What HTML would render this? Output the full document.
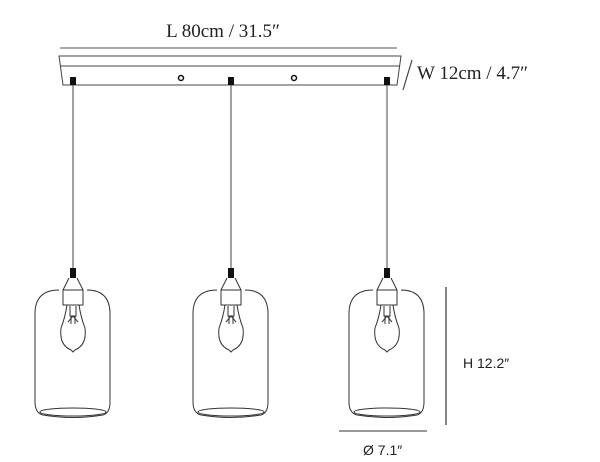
<!DOCTYPE html>
<html><head><style>
html,body{margin:0;padding:0;background:#fff;}
svg{display:block;}
text{fill:#222;}
</style></head><body>
<svg width="600" height="462" viewBox="0 0 600 462" xmlns="http://www.w3.org/2000/svg">
<defs>
<g id="lamp" fill="none" stroke="#333" stroke-width="1">
  <rect x="-3" y="268" width="6" height="10" fill="#111" stroke="none"/>
  <path d="M-4,278 L-10,290 M4,278 L10,290"/>
  <path d="M-10,290 L10,290 L10,305 L-10,305 Z"/>
  <path d="M-14,290 Q-37,290 -38,312 L-38,402 Q-38,413 -30,415 Q0,420 30,415 Q37,413 37,402 L37,312 Q36,290 14,290"/>
  <ellipse cx="0" cy="412" rx="33" ry="4"/>
  <path d="M-6,305 Q-8,318 -12,328 Q-14,345 -2,350 L0,352 L2,350 Q14,345 12,328 Q8,318 6,305"/>
  <path d="M-3,306 L-3,316 L3,316 L3,306 M-5,322 L0,316 L5,322 M-2,316 L-2,324 M2,316 L2,324"/>
</g>
</defs>
<text x="223" y="37" font-family="Liberation Serif, serif" font-size="19" text-anchor="middle">L 80cm / 31.5″</text>
<line x1="60" y1="48" x2="397" y2="48" stroke="#555" stroke-width="1"/>
<path d="M59,56 L401,56 L397,85 L63,85 Z" fill="none" stroke="#444" stroke-width="1"/>
<line x1="60" y1="66" x2="400" y2="66" stroke="#444" stroke-width="1"/>
<rect x="70" y="77" width="6" height="8" fill="#111"/>
<rect x="228" y="77" width="6" height="8" fill="#111"/>
<rect x="384" y="77" width="6" height="8" fill="#111"/>
<circle cx="181" cy="78" r="2.5" fill="none" stroke="#111" stroke-width="1.5"/>
<circle cx="294" cy="78" r="2.5" fill="none" stroke="#111" stroke-width="1.5"/>
<line x1="412" y1="60" x2="403" y2="90" stroke="#444" stroke-width="1.2"/>
<text x="417" y="79" font-family="Liberation Serif, serif" font-size="19">W 12cm / 4.7″</text>
<line x1="73" y1="85" x2="73" y2="268" stroke="#444" stroke-width="1"/>
<line x1="231" y1="85" x2="231" y2="268" stroke="#444" stroke-width="1"/>
<line x1="387" y1="85" x2="387" y2="268" stroke="#444" stroke-width="1"/>
<use href="#lamp" transform="translate(73,0)"/>
<use href="#lamp" transform="translate(231,0)"/>
<use href="#lamp" transform="translate(387,0)"/>
<line x1="446" y1="287" x2="446" y2="425" stroke="#333" stroke-width="1.2"/>
<text x="463" y="368" font-family="Liberation Sans, sans-serif" font-size="14">H 12.2″</text>
<line x1="339" y1="431" x2="427" y2="431" stroke="#333" stroke-width="1"/>
<text x="363" y="455" font-family="Liberation Sans, sans-serif" font-size="14">Ø 7.1″</text>
</svg>
</body></html>
